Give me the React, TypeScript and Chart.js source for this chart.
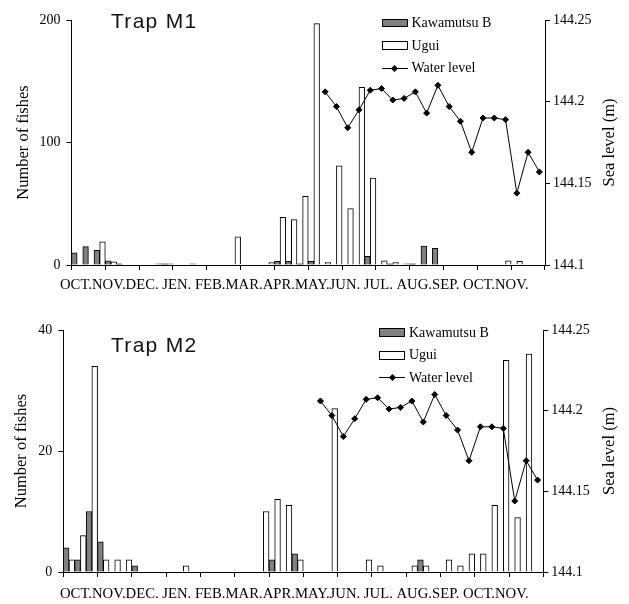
import React, { useEffect, useRef } from "react";
import { Chart, registerables } from "chart.js";

Chart.register(...registerables);

// 10-day periods (early / mid / late) from October to the November of the next year
const categories = [
  "Oct I", "Oct II", "Oct III", "Nov I", "Nov II", "Nov III",
  "Dec I", "Dec II", "Dec III", "Jan I", "Jan II", "Jan III",
  "Feb I", "Feb II", "Feb III", "Mar I", "Mar II", "Mar III",
  "Apr I", "Apr II", "Apr III", "May I", "May II", "May III",
  "Jun I", "Jun II", "Jun III", "Jul I", "Jul II", "Jul III",
  "Aug I", "Aug II", "Aug III", "Sep I", "Sep II", "Sep III",
  "Oct I'", "Oct II'", "Oct III'", "Nov I'", "Nov II'", "Nov III'",
];

const monthLabels = [
  "OCT.", "NOV.", "DEC.", " JEN.", " FEB.", "MAR.", "APR.",
  "MAY.", "JUN.", " JUL.", " AUG.", "SEP.", " OCT.", "NOV.",
];

const kawamutsuM1 = [
  10, 15, 12, 3.5, 1, 0, 0, 0, 1, 0, 0, 0, 0, 0,
  0, 0, 0, 0, 3, 3, 1, 3, 0, 0, 0, 0, 7, 0,
  1, 0, 1, 15.5, 13.6, 0, 0, 0, 0, 0, 0, 0, 0, 0,
];

const uguiM1 = [
  0, 0, 19, 2.5, 0, 0, 0, 1, 1, 0, 1, 0, 0, 0,
  23, 0, 0, 2, 39, 37, 56, 197, 2, 81, 46, 145, 71, 3.5,
  2, 1, 0, 0, 0, 0, 0, 0, 0, 0, 3.5, 3, 0, 0,
];

const kawamutsuM2 = [
  4, 2, 10, 5, 0, 0, 1, 0, 0, 0, 0, 0, 0, 0,
  0, 0, 0, 0, 2, 0, 3, 0, 0, 0, 0, 0, 0, 0,
  0, 0, 0, 2, 0, 0, 0, 0, 0, 0, 0, 0, 0, 0,
];

const uguiM2 = [
  2, 6, 34, 2, 2, 2, 0, 0, 0, 0, 1, 0, 0, 0,
  0, 0, 0, 10, 12, 11, 2, 0, 0, 27, 0, 0, 2, 1,
  0, 0, 1, 1, 0, 2, 1, 3, 3, 11, 35, 9, 36, 0,
];

const waterLevel = [
  null, null, null, null, null, null, null, null, null, null, null,
  null, null, null, null, null, null, null, null, null, null, null,
  144.206, 144.197, 144.184, 144.195, 144.207, 144.208, 144.201, 144.202,
  144.206, 144.193, 144.21, 144.197, 144.188, 144.169, 144.19, 144.19,
  144.189, 144.144, 144.169, 144.157,
];

const fishTicks = { m1: [0, 200, 100], m2: [0, 40, 20] }; // min, max, step
const seaTicks = [144.1, 144.25, 0.05];

const SERIF = '"Liberation Serif", "Times New Roman", serif';
const SANS = '"Liberation Sans", Arial, sans-serif';

type Geo = {
  top: number;
  height: number;
  leftW: number;
  rightW: number;
  padTop: number;
  xAxisH: number;
  labelY: number;
  yTitlePad: number;
};

function makeDecor(labelY: number) {
  return {
    id: "decor",
    afterDraw(chart: any) {
      const ctx = chart.ctx;
      const area = chart.chartArea;
      ctx.save();
      ctx.fillStyle = "#000";
      ctx.font = `14.7px ${SERIF}`;
      ctx.textAlign = "left";
      ctx.textBaseline = "middle";
      ctx.fillText(monthLabels.join(""), 60, labelY);
      ctx.translate(610, (area.top + area.bottom) / 2);
      ctx.rotate(-Math.PI / 2);
      ctx.textAlign = "center";
      ctx.font = `16.5px ${SERIF}`;
      ctx.fillText("Sea level (m)", 0, 0);
      ctx.restore();
    },
  };
}

function TrapChart({
  kawamutsu,
  ugui,
  yTicks,
  geo,
}: {
  kawamutsu: number[];
  ugui: number[];
  yTicks: number[];
  geo: Geo;
}) {
  const ref = useRef<HTMLCanvasElement>(null);
  useEffect(() => {
    const toNull = (a: number[]) => a.map((v) => (v === 0 ? null : v));
    const chart = new Chart(ref.current as HTMLCanvasElement, {
      type: "bar",
      data: {
        labels: categories,
        datasets: [
          {
            type: "line",
            label: "Water level",
            data: waterLevel,
            yAxisID: "y2",
            borderColor: "#000",
            borderWidth: 1,
            pointStyle: "rectRot",
            pointRadius: 3,
            pointBackgroundColor: "#000",
            pointBorderColor: "#000",
            pointBorderWidth: 1,
            tension: 0,
            order: 0,
          } as any,
          {
            label: "Kawamutsu B",
            data: toNull(kawamutsu),
            yAxisID: "y",
            backgroundColor: "#808080",
            borderColor: "#000",
            borderWidth: 1,
            categoryPercentage: 1,
            barPercentage: 1,
            order: 1,
          },
          {
            label: "Ugui",
            data: toNull(ugui),
            yAxisID: "y",
            backgroundColor: "#ffffff",
            borderColor: "#000",
            borderWidth: 1,
            categoryPercentage: 1,
            barPercentage: 1,
            order: 2,
          },
        ],
      },
      options: {
        animation: false,
        responsive: false,
        devicePixelRatio: 1,
        layout: { padding: { top: geo.padTop, left: 0, right: 0, bottom: 0 } },
        plugins: { legend: { display: false }, tooltip: { enabled: false } },
        scales: {
          x: {
            type: "category",
            offset: true,
            grid: {
              offset: true,
              drawOnChartArea: false,
              drawTicks: true,
              tickLength: 5,
              lineWidth: 1,
              color: (c: any) =>
                c.type === "scale" || c.index % 3 === 0 ? "#000" : "rgba(0,0,0,0)",
            },
            border: { display: true, color: "#000", width: 1 },
            ticks: { display: false, autoSkip: false },
            afterFit: (s: any) => {
              s.height = geo.xAxisH;
            },
          },
          y: {
            type: "linear",
            position: "left",
            min: yTicks[0],
            max: yTicks[1],
            ticks: {
              stepSize: yTicks[2],
              color: "#000",
              padding: 6,
              font: { family: SERIF, size: 14 },
            },
            grid: { drawOnChartArea: false, tickLength: 5, color: "#000" },
            border: { display: true, color: "#000", width: 1 },
            title: {
              display: true,
              text: "Number of fishes",
              color: "#000",
              font: { family: SERIF, size: 16.5 },
              padding: { top: geo.yTitlePad, bottom: 0 },
            },
            afterFit: (s: any) => {
              s.width = geo.leftW;
            },
          },
          y2: {
            type: "linear",
            position: "right",
            min: seaTicks[0],
            max: seaTicks[1],
            ticks: {
              stepSize: seaTicks[2],
              color: "#000",
              padding: 3,
              font: { family: SERIF, size: 14 },
              callback: (v: any) => String(Math.round(Number(v) * 100) / 100),
            },
            grid: { drawOnChartArea: false, tickLength: 5, color: "#000" },
            border: { display: true, color: "#000", width: 1 },
            afterFit: (s: any) => {
              s.width = geo.rightW;
            },
          },
        },
      } as any,
      plugins: [makeDecor(geo.labelY)],
    });
    return () => chart.destroy();
  }, []);
  return (
    <canvas
      ref={ref}
      width={629}
      height={geo.height}
      style={{ position: "absolute", left: 0, top: geo.top, display: "block" }}
    />
  );
}

function Legend({ left, top, boxH }: { left: number; top: number; boxH: number }) {
  const rows = [
    { label: "Kawamutsu B", kind: "gray" },
    { label: "Ugui", kind: "white" },
    { label: "Water level", kind: "line" },
  ];
  return (
    <>
      {rows.map((r, i) => {
        const cy = top + i * 22.5;
        return (
          <React.Fragment key={r.label}>
            {r.kind !== "line" ? (
              <div
                style={{
                  position: "absolute",
                  left,
                  top: cy - boxH / 2,
                  width: 26,
                  height: boxH,
                  boxSizing: "border-box",
                  border: "1px solid #000",
                  background: r.kind === "gray" ? "#808080" : "#fff",
                }}
              />
            ) : (
              <>
                <div
                  style={{
                    position: "absolute",
                    left,
                    top: cy - 0.5,
                    width: 26,
                    height: 1,
                    background: "#000",
                  }}
                />
                <div
                  style={{
                    position: "absolute",
                    left: left + 13 - 2.5,
                    top: cy - 2.5,
                    width: 5,
                    height: 5,
                    background: "#000",
                    transform: "rotate(45deg)",
                  }}
                />
              </>
            )}
            <div
              style={{
                position: "absolute",
                left: left + 30,
                top: cy - 8,
                height: 16,
                lineHeight: "16px",
                font: `14px ${SERIF}`,
                color: "#000",
                whiteSpace: "nowrap",
              }}
            >
              {r.label}
            </div>
          </React.Fragment>
        );
      })}
    </>
  );
}

function TrapLabel({ text, left, top }: { text: string; left: number; top: number }) {
  return (
    <div
      style={{
        position: "absolute",
        left,
        top,
        font: `21px ${SANS}`,
        lineHeight: "21px",
        letterSpacing: "1.3px",
        color: "#111",
        whiteSpace: "nowrap",
      }}
    >
      {text}
    </div>
  );
}

const geoM1: Geo = {
  top: 0,
  height: 300,
  leftW: 71.5,
  rightW: 84,
  padTop: 20,
  xAxisH: 35,
  labelY: 285.3,
  yTitlePad: 13.4,
};

const geoM2: Geo = {
  top: 300,
  height: 304,
  leftW: 63.3,
  rightW: 85.7,
  padTop: 30,
  xAxisH: 32,
  labelY: 294,
  yTitlePad: 12,
};

export default function App() {
  return (
    <div
      style={{
        position: "absolute",
        left: 0,
        top: 0,
        width: 629,
        height: 604,
        background: "#fff",
        overflow: "hidden",
      }}
    >
      <TrapChart kawamutsu={kawamutsuM1} ugui={uguiM1} yTicks={fishTicks.m1} geo={geoM1} />
      <TrapChart kawamutsu={kawamutsuM2} ugui={uguiM2} yTicks={fishTicks.m2} geo={geoM2} />
      <TrapLabel text="Trap M1" left={111} top={10} />
      <TrapLabel text="Trap M2" left={111} top={334} />
      <Legend left={381.5} top={23} boxH={8.5} />
      <Legend left={379} top={332.7} boxH={9} />
    </div>
  );
}
